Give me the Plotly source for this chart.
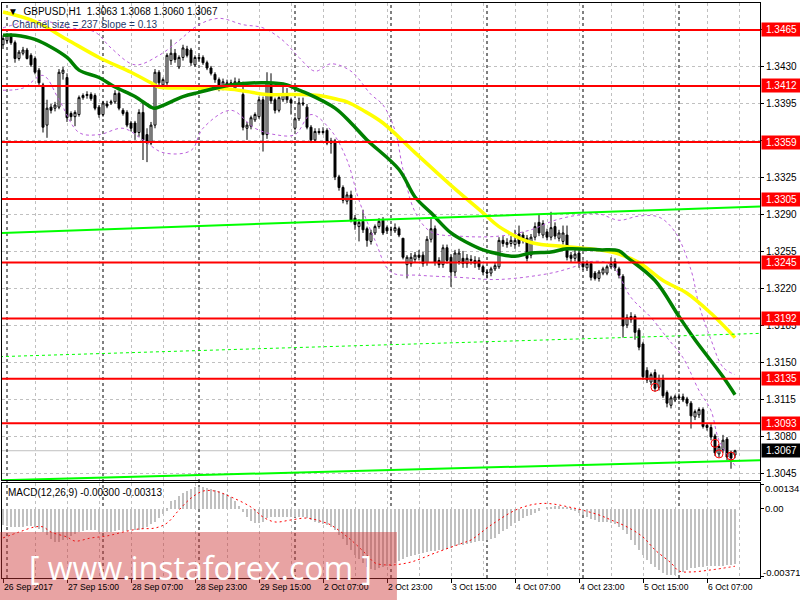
import plotly.graph_objects as go

# ---- price data: GBPUSD H1, bar index 0 = 26 Sep 2017 23:00 ----
opens = [
    1.3451, 1.3455, 1.3460, 1.3453, 1.3438, 1.3443, 1.3446, 1.3441, 1.3438, 1.3427,
    1.3413, 1.3375, 1.3392, 1.3391, 1.3392, 1.3424, 1.3420, 1.3386, 1.3383, 1.3385,
    1.3401, 1.3403, 1.3404, 1.3403, 1.3392, 1.3385, 1.3395, 1.3396, 1.3397, 1.3405,
    1.3389, 1.3387, 1.3377, 1.3377, 1.3368, 1.3387, 1.3366, 1.3358, 1.3375, 1.3425,
    1.3413, 1.3415, 1.3436, 1.3443, 1.3430, 1.3439, 1.3447, 1.3446, 1.3432, 1.3439,
    1.3439, 1.3434, 1.3429, 1.3423, 1.3418, 1.3410, 1.3412, 1.3415, 1.3410, 1.3416,
    1.3404, 1.3372, 1.3374, 1.3380, 1.3383, 1.3399, 1.3366, 1.3415, 1.3399, 1.3389,
    1.3399, 1.3405, 1.3399, 1.3372, 1.3381, 1.3396, 1.3392, 1.3373, 1.3361, 1.3369,
    1.3368, 1.3370, 1.3360, 1.3360, 1.3326, 1.3316, 1.3303, 1.3309, 1.3287, 1.3279,
    1.3284, 1.3277, 1.3265, 1.3273, 1.3279, 1.3285, 1.3278, 1.3276, 1.3275, 1.3277,
    1.3268, 1.3243, 1.3244, 1.3248, 1.3252, 1.3252, 1.3245, 1.3267, 1.3277, 1.3247,
    1.3243, 1.3259, 1.3250, 1.3236, 1.3246, 1.3249, 1.3244, 1.3248, 1.3244, 1.3247,
    1.3241, 1.3236, 1.3235, 1.3239, 1.3241, 1.3266, 1.3262, 1.3263, 1.3262, 1.3272,
    1.3271, 1.3268, 1.3252, 1.3269, 1.3283, 1.3271, 1.3274, 1.3269, 1.3279, 1.3268,
    1.3265, 1.3271, 1.3252, 1.3249, 1.3254, 1.3245, 1.3240, 1.3244, 1.3235, 1.3230,
    1.3235, 1.3235, 1.3241, 1.3246, 1.3239, 1.3232, 1.3186, 1.3191, 1.3194, 1.3181,
    1.3168, 1.3143, 1.3132, 1.3141, 1.3127, 1.3134, 1.3122, 1.3110, 1.3115, 1.3118,
    1.3118, 1.3116, 1.3112, 1.3099, 1.3101, 1.3106, 1.3091, 1.3089, 1.3081, 1.3064,
    1.3068, 1.3078, 1.3065, 1.3063,
]
highs = [
    1.3460, 1.3462, 1.3462, 1.3455, 1.3446, 1.3449, 1.3448, 1.3443, 1.3440, 1.3429,
    1.3415, 1.3399, 1.3395, 1.3397, 1.3428, 1.3430, 1.3424, 1.3388, 1.3389, 1.3403,
    1.3405, 1.3407, 1.3406, 1.3405, 1.3394, 1.3398, 1.3398, 1.3399, 1.3408, 1.3407,
    1.3391, 1.3389, 1.3379, 1.3379, 1.3390, 1.3396, 1.3372, 1.3378, 1.3428, 1.3427,
    1.3420, 1.3443, 1.3456, 1.3447, 1.3441, 1.3451, 1.3450, 1.3448, 1.3441, 1.3441,
    1.3441, 1.3436, 1.3431, 1.3425, 1.3420, 1.3419, 1.3418, 1.3418, 1.3420, 1.3419,
    1.3416, 1.3378, 1.3384, 1.3387, 1.3402, 1.3402, 1.3425, 1.3424, 1.3401, 1.3403,
    1.3415, 1.3410, 1.3401, 1.3383, 1.3401, 1.3401, 1.3395, 1.3375, 1.3372, 1.3372,
    1.3373, 1.3372, 1.3363, 1.3362, 1.3328, 1.3318, 1.3312, 1.3313, 1.3290, 1.3286,
    1.3295, 1.3279, 1.3276, 1.3281, 1.3287, 1.3288, 1.3280, 1.3279, 1.3282, 1.3279,
    1.3268, 1.3252, 1.3254, 1.3255, 1.3257, 1.3255, 1.3270, 1.3287, 1.3280, 1.3250,
    1.3262, 1.3262, 1.3253, 1.3257, 1.3258, 1.3256, 1.3253, 1.3252, 1.3251, 1.3250,
    1.3243, 1.3238, 1.3241, 1.3245, 1.3269, 1.3270, 1.3268, 1.3270, 1.3276, 1.3280,
    1.3274, 1.3271, 1.3272, 1.3283, 1.3290, 1.3285, 1.3277, 1.3293, 1.3283, 1.3276,
    1.3280, 1.3280, 1.3255, 1.3258, 1.3258, 1.3247, 1.3247, 1.3246, 1.3237, 1.3238,
    1.3241, 1.3243, 1.3250, 1.3249, 1.3241, 1.3234, 1.3196, 1.3198, 1.3196, 1.3183,
    1.3170, 1.3146, 1.3141, 1.3144, 1.3139, 1.3139, 1.3124, 1.3119, 1.3120, 1.3121,
    1.3121, 1.3118, 1.3114, 1.3106, 1.3108, 1.3108, 1.3093, 1.3092, 1.3083, 1.3073,
    1.3082, 1.3080, 1.3067, 1.3068,
]
lows = [
    1.3447, 1.3453, 1.3451, 1.3434, 1.3436, 1.3441, 1.3437, 1.3430, 1.3423, 1.3413,
    1.3368, 1.3363, 1.3386, 1.3388, 1.3390, 1.3418, 1.3378, 1.3379, 1.3374, 1.3383,
    1.3399, 1.3400, 1.3398, 1.3389, 1.3382, 1.3383, 1.3391, 1.3394, 1.3395, 1.3389,
    1.3384, 1.3373, 1.3369, 1.3361, 1.3364, 1.3342, 1.3340, 1.3356, 1.3372, 1.3410,
    1.3409, 1.3413, 1.3432, 1.3434, 1.3428, 1.3436, 1.3439, 1.3431, 1.3430, 1.3436,
    1.3432, 1.3427, 1.3422, 1.3415, 1.3407, 1.3408, 1.3410, 1.3411, 1.3408, 1.3411,
    1.3370, 1.3361, 1.3371, 1.3378, 1.3381, 1.3350, 1.3362, 1.3395, 1.3386, 1.3387,
    1.3397, 1.3396, 1.3385, 1.3370, 1.3379, 1.3393, 1.3371, 1.3358, 1.3359, 1.3366,
    1.3366, 1.3356, 1.3348, 1.3323, 1.3313, 1.3301, 1.3300, 1.3283, 1.3276, 1.3265,
    1.3273, 1.3260, 1.3262, 1.3271, 1.3277, 1.3271, 1.3272, 1.3273, 1.3273, 1.3269,
    1.3248, 1.3230, 1.3241, 1.3245, 1.3247, 1.3241, 1.3242, 1.3264, 1.3242, 1.3240,
    1.3240, 1.3244, 1.3222, 1.3232, 1.3243, 1.3240, 1.3240, 1.3243, 1.3240, 1.3238,
    1.3233, 1.3230, 1.3232, 1.3237, 1.3239, 1.3260, 1.3259, 1.3260, 1.3258, 1.3260,
    1.3263, 1.3246, 1.3249, 1.3266, 1.3270, 1.3268, 1.3266, 1.3266, 1.3267, 1.3265,
    1.3262, 1.3247, 1.3245, 1.3246, 1.3240, 1.3238, 1.3237, 1.3228, 1.3228, 1.3227,
    1.3233, 1.3233, 1.3239, 1.3237, 1.3230, 1.3174, 1.3183, 1.3188, 1.3172, 1.3162,
    1.3134, 1.3131, 1.3129, 1.3123, 1.3124, 1.3117, 1.3108, 1.3107, 1.3113, 1.3115,
    1.3113, 1.3109, 1.3088, 1.3096, 1.3098, 1.3088, 1.3086, 1.3077, 1.3062, 1.3061,
    1.3065, 1.3058, 1.3050, 1.3060,
]
closes = [
    1.3457, 1.3460, 1.3453, 1.3438, 1.3444, 1.3446, 1.3438, 1.3432, 1.3425, 1.3415,
    1.3373, 1.3391, 1.3389, 1.3394, 1.3425, 1.3427, 1.3382, 1.3383, 1.3387, 1.3401,
    1.3403, 1.3404, 1.3400, 1.3391, 1.3385, 1.3396, 1.3393, 1.3397, 1.3405, 1.3391,
    1.3386, 1.3375, 1.3372, 1.3368, 1.3387, 1.3361, 1.3358, 1.3375, 1.3425, 1.3415,
    1.3418, 1.3441, 1.3443, 1.3437, 1.3439, 1.3448, 1.3441, 1.3434, 1.3439, 1.3438,
    1.3434, 1.3429, 1.3424, 1.3418, 1.3410, 1.3416, 1.3415, 1.3413, 1.3416, 1.3413,
    1.3373, 1.3375, 1.3382, 1.3385, 1.3399, 1.3366, 1.3416, 1.3398, 1.3389, 1.3401,
    1.3404, 1.3399, 1.3396, 1.3381, 1.3396, 1.3395, 1.3373, 1.3361, 1.3369, 1.3368,
    1.3369, 1.3358, 1.3358, 1.3326, 1.3316, 1.3304, 1.3309, 1.3285, 1.3281, 1.3283,
    1.3276, 1.3266, 1.3273, 1.3279, 1.3284, 1.3273, 1.3275, 1.3276, 1.3278, 1.3271,
    1.3250, 1.3250, 1.3250, 1.3252, 1.3250, 1.3244, 1.3267, 1.3277, 1.3245, 1.3243,
    1.3259, 1.3247, 1.3236, 1.3254, 1.3254, 1.3244, 1.3249, 1.3247, 1.3247, 1.3241,
    1.3236, 1.3235, 1.3239, 1.3242, 1.3266, 1.3263, 1.3264, 1.3266, 1.3266, 1.3263,
    1.3266, 1.3249, 1.3269, 1.3279, 1.3273, 1.3282, 1.3269, 1.3278, 1.3270, 1.3273,
    1.3273, 1.3250, 1.3249, 1.3253, 1.3245, 1.3241, 1.3244, 1.3231, 1.3230, 1.3236,
    1.3239, 1.3241, 1.3244, 1.3240, 1.3233, 1.3185, 1.3193, 1.3194, 1.3179, 1.3165,
    1.3137, 1.3134, 1.3139, 1.3126, 1.3134, 1.3119, 1.3112, 1.3117, 1.3118, 1.3117,
    1.3115, 1.3112, 1.3100, 1.3104, 1.3106, 1.3090, 1.3089, 1.3080, 1.3065, 1.3071,
    1.3077, 1.3061, 1.3060, 1.3067,
]
bars = list(range(len(closes)))

# ---- moving averages (bar index, price) ----
yellow_x = [0, 8, 16, 24, 32, 37, 39, 45, 57, 66, 74, 79, 84, 86, 90, 95, 103, 112,
            120, 124, 132, 141, 149, 154, 159, 165, 171, 177, 183]
yellow_y = [1.3482, 1.3473, 1.3456, 1.3439, 1.3425, 1.3415, 1.3411, 1.3410, 1.3409,
            1.3404, 1.3404, 1.3403, 1.3399, 1.3397, 1.3389, 1.3377, 1.3349, 1.3318,
            1.3292, 1.3279, 1.3264, 1.3260, 1.3257, 1.3253, 1.3245, 1.3228, 1.3216,
            1.3197, 1.3174]
green_x = [0, 3, 8, 16, 19, 24, 28, 33, 37, 38, 45, 49, 57, 66, 71, 74, 76, 83, 87,
           91, 99, 103, 107, 112, 116, 120, 124, 128, 132, 137, 141, 149, 154, 156,
           163, 169, 173, 180, 183]
green_y = [1.3460, 1.3460, 1.3456, 1.3439, 1.3427, 1.3420, 1.3411, 1.3402, 1.3392,
           1.3391, 1.3402, 1.3406, 1.3413, 1.3415, 1.3413, 1.3408, 1.3405, 1.3391,
           1.3377, 1.3361, 1.3333, 1.3307, 1.3292, 1.3273, 1.3264, 1.3257, 1.3253,
           1.3251, 1.3254, 1.3255, 1.3258, 1.3257, 1.3256, 1.3250, 1.3228, 1.3194,
           1.3172, 1.3137, 1.3120]

# ---- envelope bands (dashed purple) ----
upper_x = [0, 9, 17, 23, 27, 33, 39, 44, 49, 54, 60, 65, 70, 74, 78, 82, 87, 92, 95,
           98, 100, 103, 107, 114, 124, 132, 138, 144, 149, 154, 159, 164, 168, 172,
           174, 177, 180, 183]
upper_y = [1.3467, 1.3474, 1.3467, 1.3463, 1.3448, 1.3432, 1.3441, 1.3455, 1.3470,
           1.3476, 1.3470, 1.3467, 1.3455, 1.3439, 1.3426, 1.3433, 1.3426, 1.3404,
           1.3394, 1.3370, 1.3333, 1.3293, 1.3274, 1.3270, 1.3270, 1.3276, 1.3285,
           1.3290, 1.3291, 1.3285, 1.3289, 1.3288, 1.3274, 1.3238, 1.3205, 1.3172,
           1.3146, 1.3139]
lower_x = [0, 5, 10, 14, 19, 24, 30, 35, 40, 47, 50, 57, 63, 68, 73, 77, 82, 86, 89,
           93, 97, 104, 114, 124, 137, 142, 147, 152, 157, 162, 166, 170, 174, 177,
           179, 183]
lower_y = [1.3408, 1.3410, 1.3422, 1.3399, 1.3368, 1.3366, 1.3372, 1.3361, 1.3349,
           1.3351, 1.3372, 1.3389, 1.3372, 1.3366, 1.3366, 1.3385, 1.3370, 1.3342,
           1.3304, 1.3266, 1.3236, 1.3233, 1.3231, 1.3229, 1.3235, 1.3240, 1.3246,
           1.3243, 1.3212, 1.3193, 1.3174, 1.3155, 1.3124, 1.3105, 1.3077, 1.3053]

# ---- small red circles marked near the latest lows ----
mark_x = [163, 178, 179, 182]
mark_y = [1.3127, 1.3074, 1.3064, 1.3062]

# ---- regression channel ----
channel_x = [-0.75, 189.25]
channel_upper = [1.3273, 1.3298]
channel_mid = [1.3156, 1.3178]
channel_lower = [1.3039, 1.3058]

# ---- horizontal levels ----
levels = [1.3465, 1.3412, 1.3359, 1.3305, 1.3245, 1.3192, 1.3135, 1.3093]
last_price = 1.3067
price_ticks = [1.3465, 1.3430, 1.3395, 1.3360, 1.3325, 1.3290, 1.3255, 1.3220,
               1.3185, 1.3150, 1.3115, 1.3080, 1.3045]

# ---- MACD(12,26,9) ----
macd_main = [
    -0.00089, -0.00095, -0.00098, -0.00098, -0.00098, -0.00098, -0.00096, -0.00095, -0.00098, -0.00110,
    -0.00125, -0.00145, -0.00165, -0.00179, -0.00179, -0.00172, -0.00158, -0.00150, -0.00140, -0.00127,
    -0.00120, -0.00116, -0.00116, -0.00118, -0.00124, -0.00125, -0.00125, -0.00124, -0.00122, -0.00118,
    -0.00120, -0.00121, -0.00118, -0.00116, -0.00116, -0.00110, -0.00098, -0.00085, -0.00070, -0.00048,
    -0.00030, -0.00010, 0.00040, 0.00047, 0.00068, 0.00085, 0.00098, 0.00110, 0.00118, 0.00120,
    0.00116, 0.00113, 0.00110, 0.00102, 0.00096, 0.00088, 0.00078, 0.00062, 0.00040, 0.00015,
    -0.00020, -0.00045, -0.00065, -0.00080, -0.00080, -0.00070, -0.00053, -0.00045, -0.00043, -0.00043,
    -0.00043, -0.00043, -0.00043, -0.00043, -0.00043, -0.00046, -0.00050, -0.00060, -0.00070, -0.00078,
    -0.00082, -0.00088, -0.00100, -0.00115, -0.00145, -0.00165, -0.00197, -0.00225, -0.00250, -0.00275,
    -0.00295, -0.00315, -0.00330, -0.00333, -0.00325, -0.00315, -0.00310, -0.00305, -0.00298, -0.00285,
    -0.00275, -0.00265, -0.00255, -0.00250, -0.00245, -0.00240, -0.00235, -0.00230, -0.00228, -0.00225,
    -0.00222, -0.00218, -0.00212, -0.00205, -0.00200, -0.00197, -0.00192, -0.00187, -0.00182, -0.00178,
    -0.00174, -0.00170, -0.00165, -0.00158, -0.00140, -0.00122, -0.00108, -0.00095, -0.00080, -0.00065,
    -0.00050, -0.00042, -0.00035, -0.00022, -0.00010, 0.00000, 0.00005, 0.00012, 0.00015, 0.00014,
    0.00012, 0.00005, -0.00005, -0.00015, -0.00025, -0.00035, -0.00045, -0.00055, -0.00062, -0.00070,
    -0.00070, -0.00070, -0.00075, -0.00085, -0.00098, -0.00115, -0.00140, -0.00170, -0.00197, -0.00225,
    -0.00252, -0.00280, -0.00300, -0.00315, -0.00335, -0.00351, -0.00358, -0.00360, -0.00360, -0.00352,
    -0.00342, -0.00333, -0.00324, -0.00320, -0.00316, -0.00315, -0.00314, -0.00314, -0.00313, -0.00312,
    -0.00310, -0.00308, -0.00305, -0.00300,
]
signal_x = [0, 4, 8, 10, 12, 16, 18, 22, 26, 30, 34, 38, 41, 44, 47, 50, 53, 57, 62, 65,
            68, 72, 76, 80, 82, 87, 91, 93, 97, 102, 108, 115, 117, 122, 129, 135, 142,
            149, 152, 156, 160, 163, 167, 169, 172, 177, 183]
signal_y = [-0.00159, -0.00127, -0.00099, -0.00099, -0.00127, -0.00154, -0.00176, -0.00159,
            -0.00148, -0.00127, -0.00110, -0.00105, -0.00078, -0.00007, 0.00058, 0.00096,
            0.00096, 0.00064, 0.00009, -0.00045, -0.00072, -0.00061, -0.00051, -0.00072,
            -0.00089, -0.00170, -0.00252, -0.00295, -0.00306, -0.00290, -0.00241, -0.00186,
            -0.00170, -0.00089, 0.00001, 0.00029, 0.00007, -0.00034, -0.00061, -0.00099,
            -0.00154, -0.00224, -0.00295, -0.00339, -0.00344, -0.00333, -0.00313]
macd_ticks = [0.00134, 0.0, -0.00371]

# ---- time axis ----
label_bars = [0, 16, 32, 48, 64, 80, 96, 112, 128, 144, 160, 176]
label_text = ["26 Sep 2017", "27 Sep 15:00", "28 Sep 07:00", "28 Sep 23:00",
              "29 Sep 15:00", "2 Oct 07:00", "2 Oct 23:00", "3 Oct 15:00",
              "4 Oct 07:00", "4 Oct 23:00", "5 Oct 15:00", "6 Oct 07:00"]
day_breaks = [1, 25, 49, 73, 97, 121, 145, 169]

FONT = "Liberation Sans, Arial, sans-serif"
GRID = "#c0c0c0"

fig = go.Figure()

fig.add_trace(go.Candlestick(
    x=bars, open=opens, high=highs, low=lows, close=closes,
    increasing=dict(line=dict(color="black", width=1), fillcolor="white"),
    decreasing=dict(line=dict(color="black", width=1), fillcolor="black"),
    whiskerwidth=0, hoverinfo="skip", showlegend=False,
))
for bx, by in [(upper_x, upper_y), (lower_x, lower_y)]:
    fig.add_trace(go.Scatter(x=bx, y=by, mode="lines", line_shape="spline",
                             line=dict(color="#bb5fdc", width=1, dash="3px,3px"),
                             hoverinfo="skip", showlegend=False))
fig.add_trace(go.Scatter(x=yellow_x, y=yellow_y, mode="lines", line_shape="spline",
                         line=dict(color="#ffff00", width=3.5), hoverinfo="skip", showlegend=False))
fig.add_trace(go.Scatter(x=green_x, y=green_y, mode="lines", line_shape="spline",
                         line=dict(color="#008000", width=3.5), hoverinfo="skip", showlegend=False))
fig.add_trace(go.Scatter(x=channel_x, y=channel_upper, mode="lines",
                         line=dict(color="#00ff00", width=2), hoverinfo="skip", showlegend=False))
fig.add_trace(go.Scatter(x=channel_x, y=channel_mid, mode="lines",
                         line=dict(color="#00ff00", width=1, dash="3px,3px"), hoverinfo="skip", showlegend=False))
fig.add_trace(go.Scatter(x=channel_x, y=channel_lower, mode="lines",
                         line=dict(color="#00ff00", width=2), hoverinfo="skip", showlegend=False))
fig.add_trace(go.Scatter(x=mark_x, y=mark_y, mode="markers",
                         marker=dict(symbol="circle-open", size=8, color="#ff0000", line=dict(width=1)),
                         hoverinfo="skip", showlegend=False))

# MACD panel
fig.add_trace(go.Bar(x=bars, y=macd_main, marker=dict(color="#c0c0c0", line=dict(width=0)),
                     width=0.55, xaxis="x2", yaxis="y2", hoverinfo="skip", showlegend=False))
fig.add_trace(go.Scatter(x=signal_x, y=signal_y, mode="lines", line_shape="spline",
                         line=dict(color="#ff0000", width=1, dash="2px,3px"),
                         xaxis="x2", yaxis="y2", hoverinfo="skip", showlegend=False))

# levels and current price
shapes = []
shapes.append(dict(type="line", xref="paper", yref="y", x0=0, x1=1, y0=last_price, y1=last_price,
                   line=dict(color="#c0c0c0", width=1), layer="below"))
for lv in levels:
    shapes.append(dict(type="line", xref="paper", yref="y", x0=0, x1=1, y0=lv, y1=lv,
                       line=dict(color="#ff0000", width=2), layer="above"))
for db in day_breaks:
    shapes.append(dict(type="line", xref="x", yref="paper", x0=db, x1=db, y0=0, y1=1,
                       line=dict(color="black", width=1, dash="3px,3px"), layer="below"))
# watermark band
shapes.append(dict(type="rect", xref="paper", yref="paper", x0=-0.003, x1=0.521, y0=-0.04, y1=0.08,
                   fillcolor="rgba(205,50,50,0.45)", line=dict(width=0), layer="above"))

annotations = []
for lv in levels:
    annotations.append(dict(xref="paper", yref="y", x=1, y=lv, xanchor="left", yanchor="middle",
                            xshift=1, text=f"{lv:.4f}", showarrow=False, bgcolor="#ff0000",
                            font=dict(family=FONT, size=10, color="white"), width=37, align="center",
                            borderpad=1))
annotations.append(dict(xref="paper", yref="y", x=1, y=last_price, xanchor="left", yanchor="middle",
                        xshift=1, text=f"{last_price:.4f}", showarrow=False, bgcolor="black",
                        font=dict(family=FONT, size=10, color="white"), width=37, align="center",
                        borderpad=1))
# MACD scale labels (MetaTrader pulls the outer ones inside the panel)
for v, ys in zip(macd_ticks, [-4, 0, 4]):
    annotations.append(dict(xref="paper", yref="y2", x=1, y=v, xanchor="left", yanchor="middle",
                            xshift=3 if v >= 0 else 1, yshift=ys,
                            text=("%.5f" % v) if v != 0 else "0.00", showarrow=False,
                            font=dict(family=FONT, size=9.5, color="black")))
for b, t in zip(label_bars, label_text):
    annotations.append(dict(xref="x2", yref="paper", x=b, y=-0.006, xanchor="left", yanchor="top",
                            xshift=0, text=t, showarrow=False, borderpad=0,
                            font=dict(family=FONT, size=8.6, color="black")))
annotations.append(dict(xref="paper", yref="paper", x=0.005, y=1.0, xanchor="left", yanchor="top",
                        yshift=-1, text="\u25BC  GBPUSD,H1  1.3063 1.3068 1.3060 1.3067", showarrow=False,
                        font=dict(family=FONT, size=10, color="black")))
annotations.append(dict(xref="paper", yref="paper", x=0.01, y=0.975, xanchor="left", yanchor="top",
                        text="Channel size = 237 Slope = 0.13", showarrow=False,
                        font=dict(family=FONT, size=10, color="#1f3a68")))
annotations.append(dict(xref="paper", yref="paper", x=0.005, y=0.161, xanchor="left", yanchor="top",
                        text="MACD(12,26,9) -0.00300 -0.00313", showarrow=False,
                        font=dict(family=FONT, size=10, color="black")))
annotations.append(dict(xref="paper", yref="paper", x=0.262, y=0.018, xanchor="center", yanchor="middle",
                        text="[ www.instaforex.com ]", showarrow=False,
                        font=dict(family="Open Sans, sans-serif", size=32, color="white")))

axis_common = dict(showline=True, linecolor="black", linewidth=1, mirror=True, zeroline=False,
                   automargin=False)
fig.update_layout(
    width=800, height=600,
    margin=dict(l=2, r=40, t=3, b=22, autoexpand=False),
    paper_bgcolor="white", plot_bgcolor="white",
    font=dict(family=FONT, size=10, color="black"),
    showlegend=False, bargap=0,
    xaxis=dict(domain=[0, 1], anchor="y", range=[-0.25, 189.25], showticklabels=False,
               rangeslider=dict(visible=False), tick0=0, dtick=16, ticks="",
               showgrid=True, gridcolor=GRID, griddash="3px,3px", gridwidth=1,
               minor=dict(tick0=0, dtick=8, showgrid=True, gridcolor=GRID, griddash="3px,3px"),
               **axis_common),
    xaxis2=dict(domain=[0, 1], anchor="y2", range=[-0.25, 189.25], matches="x", showticklabels=False,
                tickvals=label_bars, ticks="outside", ticklen=4, tickcolor="black",
                showgrid=True, gridcolor=GRID, griddash="3px,3px",
                minor=dict(tick0=0, dtick=8, showgrid=True, gridcolor=GRID, griddash="3px,3px"),
                **axis_common),
    yaxis=dict(domain=[0.1704, 1], anchor="x", side="right", range=[1.30393, 1.34905],
               tickvals=price_ticks, ticktext=[f"{v:.4f}" for v in price_ticks],
               ticks="outside", ticklen=3, tickcolor="black",
               showgrid=True, gridcolor=GRID, griddash="3px,3px",
               tickfont=dict(family=FONT, size=10), **axis_common),
    yaxis2=dict(domain=[0, 0.1652], anchor="x2", side="right", range=[-0.00377, 0.0014],
                tickvals=macd_ticks, showticklabels=False,
                ticks="outside", ticklen=3, tickcolor="black", showgrid=False, **axis_common),
    shapes=shapes,
    annotations=annotations,
)

# the page's default body margin would shift the chart by 8px
fig.write_html("out.html", config={"displayModeBar": False},
               post_script="document.body.style.margin='0';document.body.style.overflow='hidden';")
